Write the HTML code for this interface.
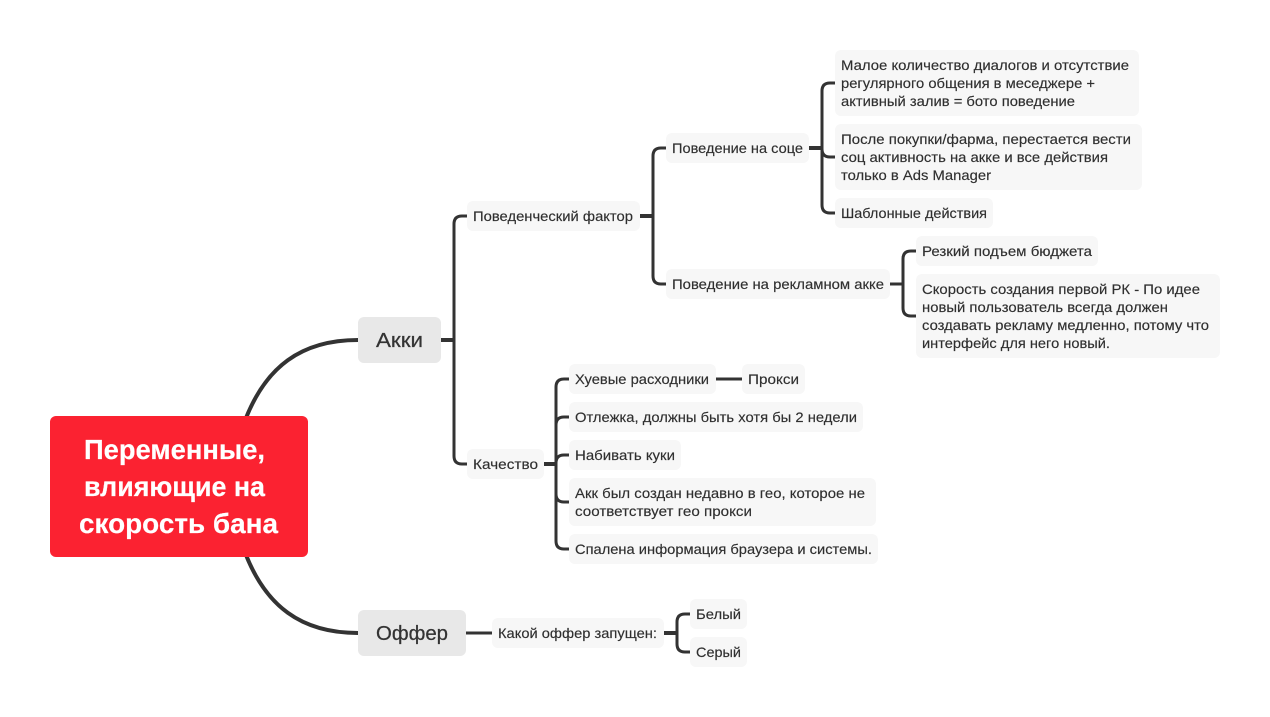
<!DOCTYPE html>
<html lang="ru">
<head>
<meta charset="utf-8">
<title>Переменные, влияющие на скорость бана</title>
<style>
html,body{margin:0;padding:0;background:#fff;width:1270px;height:717px;overflow:hidden}
svg{display:block}
text{font-family:"Liberation Sans",sans-serif;font-size:14px;fill:#2f2f2f;stroke:#2f2f2f;stroke-width:.15px}
.n{fill:#f7f7f7}
.c{fill:none;stroke:#333;stroke-width:3;stroke-linecap:butt}
.t{fill:none;stroke:#333;stroke-width:4}
.h{font-size:20px;fill:#333;stroke:#333;stroke-width:.25px}
.r{font-size:28px;font-weight:bold;fill:#fff;stroke:#fff;stroke-width:.2px}
</style>
</head>
<body>
<svg width="1270" height="717" viewBox="0 0 1270 717" xmlns="http://www.w3.org/2000/svg">
<!-- main curves -->
<path d="M246 418C266 368 300 340 358 340" fill="none" stroke="#333" stroke-width="4"/>
<path d="M246 555C266 605 300 633 358 633" fill="none" stroke="#333" stroke-width="4"/>

<!-- connectors -->
<path class="t" d="M441 340H454"/>
<path class="c" d="M467 216H462Q454 216 454 224V456Q454 464 462 464H467"/>
<path class="t" d="M640 216H653"/>
<path class="c" d="M666 148H661Q653 148 653 156V276Q653 284 661 284H666"/>
<path class="t" d="M809 148H822"/>
<path class="c" d="M835 83H830Q822 83 822 91V205Q822 213 830 213H835"/>
<path class="c" d="M822 149Q822 157 830 157H835"/>
<path class="t" d="M890 284H903" style="stroke-width:3"/>
<path class="c" d="M916 251H911Q903 251 903 259V308Q903 316 911 316H916"/>
<path class="t" d="M544 464H556"/>
<path class="c" d="M569 379H564Q556 379 556 387V541Q556 549 564 549H569"/>
<path class="c" d="M556 425Q556 417 564 417H569"/>
<path class="c" d="M556 463Q556 455 564 455H569"/>
<path class="c" d="M556 494Q556 502 564 502H569"/>
<path class="c" d="M716 379H742"/>
<path class="c" d="M466 633H492"/>
<path class="t" d="M664 633H677"/>
<path class="c" d="M690 614H685Q677 614 677 622V644Q677 652 685 652H690"/>

<!-- central node -->
<rect x="50" y="416" width="258" height="141" rx="6" fill="#fb2231"/>
<text class="r" x="84" y="459" textLength="181" lengthAdjust="spacingAndGlyphs">Переменные,</text>
<text class="r" x="84" y="496" textLength="181" lengthAdjust="spacingAndGlyphs">влияющие на</text>
<text class="r" x="79" y="533" textLength="199" lengthAdjust="spacingAndGlyphs">скорость бана</text>

<!-- level 1 -->
<rect x="358" y="317" width="83" height="46" rx="6" fill="#e8e8e8"/>
<text class="h" x="376" y="347" textLength="47" lengthAdjust="spacingAndGlyphs">Акки</text>
<rect x="358" y="610" width="108" height="46" rx="6" fill="#e8e8e8"/>
<text class="h" x="376" y="640" textLength="72" lengthAdjust="spacingAndGlyphs">Оффер</text>

<!-- level 2+ -->
<rect class="n" x="467" y="201" width="173" height="30" rx="6"/>
<text x="473" y="221" textLength="160" lengthAdjust="spacingAndGlyphs">Поведенческий фактор</text>
<rect class="n" x="467" y="449" width="77" height="30" rx="6"/>
<text x="473" y="469" textLength="65" lengthAdjust="spacingAndGlyphs">Качество</text>
<rect class="n" x="666" y="133" width="143" height="30" rx="6"/>
<text x="672" y="153" textLength="131" lengthAdjust="spacingAndGlyphs">Поведение на соце</text>
<rect class="n" x="666" y="269" width="224" height="30" rx="6"/>
<text x="672" y="289" textLength="212" lengthAdjust="spacingAndGlyphs">Поведение на рекламном акке</text>

<rect class="n" x="835" y="50" width="304" height="66" rx="6"/>
<text x="841" y="70" textLength="288" lengthAdjust="spacingAndGlyphs">Малое количество диалогов и отсутствие</text>
<text x="841" y="88" textLength="254" lengthAdjust="spacingAndGlyphs">регулярного общения в меседжере +</text>
<text x="841" y="106" textLength="234" lengthAdjust="spacingAndGlyphs">активный залив = бото поведение</text>

<rect class="n" x="835" y="124" width="307" height="66" rx="6"/>
<text x="841" y="144" textLength="290" lengthAdjust="spacingAndGlyphs">После покупки/фарма, перестается вести</text>
<text x="841" y="162" textLength="267" lengthAdjust="spacingAndGlyphs">соц активность на акке и все действия</text>
<text x="841" y="180" textLength="150" lengthAdjust="spacingAndGlyphs">только в Ads Manager</text>

<rect class="n" x="835" y="198" width="158" height="30" rx="6"/>
<text x="841" y="218" textLength="146" lengthAdjust="spacingAndGlyphs">Шаблонные действия</text>

<rect class="n" x="916" y="236" width="182" height="30" rx="6"/>
<text x="922" y="256" textLength="170" lengthAdjust="spacingAndGlyphs">Резкий подъем бюджета</text>

<rect class="n" x="916" y="274" width="304" height="84" rx="6"/>
<text x="922" y="294" textLength="278" lengthAdjust="spacingAndGlyphs">Скорость создания первой РК - По идее</text>
<text x="922" y="312" textLength="246" lengthAdjust="spacingAndGlyphs">новый пользователь всегда должен</text>
<text x="922" y="330" textLength="287" lengthAdjust="spacingAndGlyphs">создавать рекламу медленно, потому что</text>
<text x="922" y="348" textLength="188" lengthAdjust="spacingAndGlyphs">интерфейс для него новый.</text>

<rect class="n" x="569" y="364" width="147" height="30" rx="6"/>
<text x="575" y="384" textLength="134" lengthAdjust="spacingAndGlyphs">Хуевые расходники</text>
<rect class="n" x="742" y="364" width="63" height="30" rx="6"/>
<text x="748" y="384" textLength="51" lengthAdjust="spacingAndGlyphs">Прокси</text>
<rect class="n" x="569" y="402" width="294" height="30" rx="6"/>
<text x="575" y="422" textLength="282" lengthAdjust="spacingAndGlyphs">Отлежка, должны быть хотя бы 2 недели</text>
<rect class="n" x="569" y="440" width="112" height="30" rx="6"/>
<text x="575" y="460" textLength="100" lengthAdjust="spacingAndGlyphs">Набивать куки</text>
<rect class="n" x="569" y="478" width="307" height="48" rx="6"/>
<text x="575" y="498" textLength="290" lengthAdjust="spacingAndGlyphs">Акк был создан недавно в гео, которое не</text>
<text x="575" y="516" textLength="177" lengthAdjust="spacingAndGlyphs">соответствует гео прокси</text>
<rect class="n" x="569" y="534" width="309" height="30" rx="6"/>
<text x="575" y="554" textLength="297" lengthAdjust="spacingAndGlyphs">Спалена информация браузера и системы.</text>

<rect class="n" x="492" y="618" width="172" height="30" rx="6"/>
<text x="498" y="638" textLength="159" lengthAdjust="spacingAndGlyphs">Какой оффер запущен:</text>
<rect class="n" x="690" y="599" width="57" height="30" rx="6"/>
<text x="696" y="619" textLength="45" lengthAdjust="spacingAndGlyphs">Белый</text>
<rect class="n" x="690" y="637" width="57" height="30" rx="6"/>
<text x="696" y="657" textLength="45" lengthAdjust="spacingAndGlyphs">Серый</text>
</svg>
</body>
</html>
